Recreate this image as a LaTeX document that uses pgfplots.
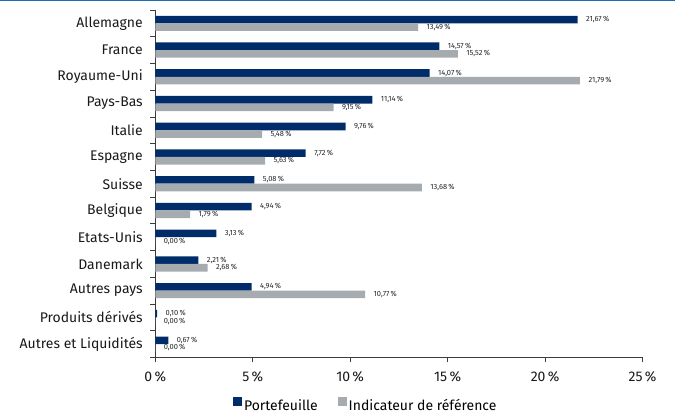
\documentclass[border=0pt]{standalone}
\usepackage{pgfplots}
\pgfplotsset{compat=1.18}
\usepackage{fontspec}
\setmainfont{Fira Sans}

\definecolor{navy}{RGB}{0,45,106}
\definecolor{grisbar}{RGB}{166,171,176}
\definecolor{filet}{RGB}{25,110,180}
\definecolor{axe}{RGB}{60,60,60}

\begin{document}
\begin{tikzpicture}
\begin{axis}[
  scale only axis,
  width=488pt, height=348pt,
  xbar, bar width=7.6pt,
  xmin=0, xmax=25, ymin=-0.5, ymax=12.5,
  y dir=reverse,
  axis lines*=left,
  axis line style={axe, line width=0.8pt},
  every tick/.style={axe, line width=0.8pt},
  tick align=outside,
  major tick length=5pt,
  /pgf/number format/assume math mode=true,
  xtick={0,5,...,25},
  xticklabel={\pgfmathprintnumber{\tick}\,\%},
  xticklabel style={font=\fontsize{14}{16}\selectfont, text=black!90, yshift=-6pt},
  ytick={-0.5,0.5,...,12.5},
  yticklabels={},
  extra y ticks={0,...,12},
  extra y tick labels={Allemagne,France,Royaume-Uni,Pays-Bas,Italie,Espagne,Suisse,Belgique,Etats-Unis,Danemark,Autres pays,Produits dérivés,Autres et Liquidités},
  extra y tick style={major tick length=0pt, tick style={draw=none},
    yticklabel style={font=\fontsize{14}{16}\selectfont, text=black!90, xshift=-9pt}},
  nodes near coords={\pgfmathprintnumber[use comma,fixed,fixed zerofill,precision=2]{\pgfplotspointmeta}\,\%},
  nodes near coords style={font=\fontsize{7.5}{8}\selectfont, text=black!85, anchor=west, xshift=5pt},
  legend style={at={(0.432,-0.138)}, anchor=center, draw=none, fill=none,
    legend columns=2, font=\fontsize{14}{16}\selectfont,
    /tikz/every even column/.append style={column sep=18pt}},
  legend image code/.code={\fill[#1,draw=none] (0pt,-1pt) rectangle (9pt,8.5pt);},
]
\addplot[fill=navy, draw=none, bar shift=3.8pt] coordinates {
  (21.67,0) (14.57,1) (14.07,2) (11.14,3) (9.76,4) (7.72,5) (5.08,6)
  (4.94,7) (3.13,8) (2.21,9) (4.94,10) (0.10,11) (0.67,12)
};
\addplot[fill=grisbar, draw=none, bar shift=-3.8pt] coordinates {
  (13.49,0) (15.52,1) (21.79,2) (9.15,3) (5.48,4) (5.63,5) (13.68,6)
  (1.79,7) (0.00,8) (2.68,9) (10.77,10) (0.00,11) (0.00,12)
};
\legend{Portefeuille, Indicateur de référence}
\end{axis}
\draw[filet, line width=1pt] ([shift={(-155pt,9.5pt)}]current axis.north west) -- ([shift={(520pt,9.5pt)}]current axis.north west);
\path ([shift={(-155pt,10pt)}]current axis.north west) rectangle ([shift={(520pt,-56pt)}]current axis.south west);
\end{tikzpicture}
\end{document}
